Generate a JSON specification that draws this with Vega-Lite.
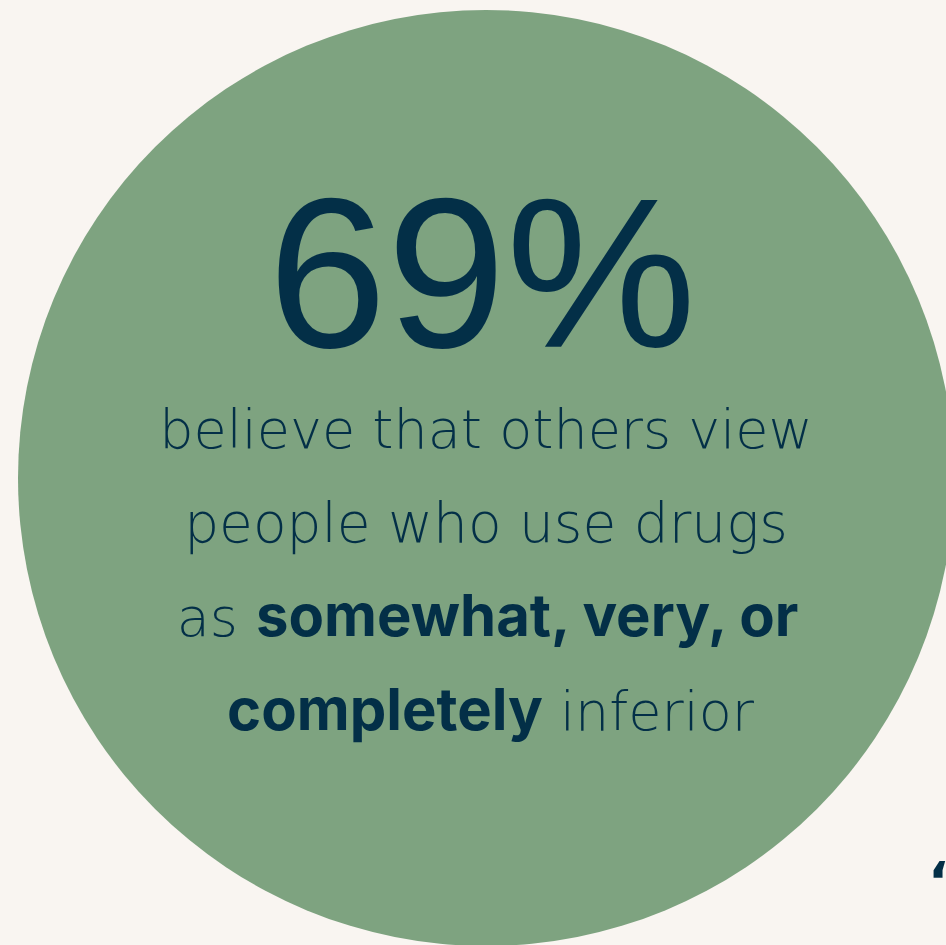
{
  "$schema": "https://vega.github.io/schema/vega-lite/v6.json",
  "width": 946,
  "height": 945,
  "padding": 0,
  "autosize": {"type": "none"},
  "background": "#f9f5f1",
  "config": {"view": {"stroke": null}, "axis": {"disable": true}},
  "datasets": {
    "stat": [{"label": "69%", "value": 69}],
    "line1": [{"text": "believe that others view"}],
    "line2": [{"text": "people who use drugs"}],
    "line3a": [{"text": "as"}],
    "line3b": [{"text": "somewhat, very, or"}],
    "line4a": [{"text": "completely"}],
    "line4b": [{"text": "inferior"}],
    "quote": [{"text": "“"}]
  },
  "layer": [
    {
      "data": {"name": "stat"},
      "mark": {"type": "point", "shape": "circle", "filled": true, "opacity": 1, "color": "#7ea380", "size": 876096},
      "encoding": {
        "x": {"datum": 486, "type": "quantitative", "scale": {"domain": [0, 946], "nice": false, "zero": false}, "axis": null},
        "y": {"datum": 478, "type": "quantitative", "scale": {"domain": [0, 945], "nice": false, "zero": false, "reverse": true}, "axis": null}
      }
    },
    {
      "data": {"name": "stat"},
      "mark": {"type": "text", "font": "Liberation Sans", "fontSize": 214, "color": "#032f47", "align": "center", "baseline": "alphabetic"},
      "encoding": {"text": {"field": "label"}, "x": {"datum": 482, "type": "quantitative"}, "y": {"datum": 347, "type": "quantitative"}}
    },
    {
      "data": {"name": "line1"},
      "mark": {"type": "text", "font": "DejaVu Sans", "fontWeight": 200, "fontSize": 54, "color": "#032f47", "align": "center", "baseline": "alphabetic"},
      "encoding": {"text": {"field": "text"}, "x": {"datum": 486, "type": "quantitative"}, "y": {"datum": 448, "type": "quantitative"}}
    },
    {
      "data": {"name": "line2"},
      "mark": {"type": "text", "font": "DejaVu Sans", "fontWeight": 200, "fontSize": 55, "color": "#032f47", "align": "center", "baseline": "alphabetic"},
      "encoding": {"text": {"field": "text"}, "x": {"datum": 486, "type": "quantitative"}, "y": {"datum": 542, "type": "quantitative"}}
    },
    {
      "data": {"name": "line3a"},
      "mark": {"type": "text", "font": "DejaVu Sans", "fontWeight": 200, "fontSize": 54, "color": "#032f47", "align": "right", "baseline": "alphabetic"},
      "encoding": {"text": {"field": "text"}, "x": {"datum": 238, "type": "quantitative"}, "y": {"datum": 636, "type": "quantitative"}}
    },
    {
      "data": {"name": "line3b"},
      "mark": {"type": "text", "font": "Inter", "fontWeight": 700, "fontSize": 58, "color": "#032f47", "align": "left", "baseline": "alphabetic"},
      "encoding": {"text": {"field": "text"}, "x": {"datum": 256, "type": "quantitative"}, "y": {"datum": 636, "type": "quantitative"}}
    },
    {
      "data": {"name": "line4a"},
      "mark": {"type": "text", "font": "Inter", "fontWeight": 700, "fontSize": 58, "color": "#032f47", "align": "right", "baseline": "alphabetic"},
      "encoding": {"text": {"field": "text"}, "x": {"datum": 543, "type": "quantitative"}, "y": {"datum": 730, "type": "quantitative"}}
    },
    {
      "data": {"name": "line4b"},
      "mark": {"type": "text", "font": "DejaVu Sans", "fontWeight": 200, "fontSize": 54, "color": "#032f47", "align": "left", "baseline": "alphabetic"},
      "encoding": {"text": {"field": "text"}, "x": {"datum": 560, "type": "quantitative"}, "y": {"datum": 730, "type": "quantitative"}}
    },
    {
      "data": {"name": "quote"},
      "mark": {"type": "text", "font": "DejaVu Sans", "fontWeight": "bold", "fontSize": 54, "color": "#032f47", "align": "left", "baseline": "alphabetic"},
      "encoding": {"text": {"field": "text"}, "x": {"datum": 928, "type": "quantitative"}, "y": {"datum": 900, "type": "quantitative"}}
    }
  ]
}
